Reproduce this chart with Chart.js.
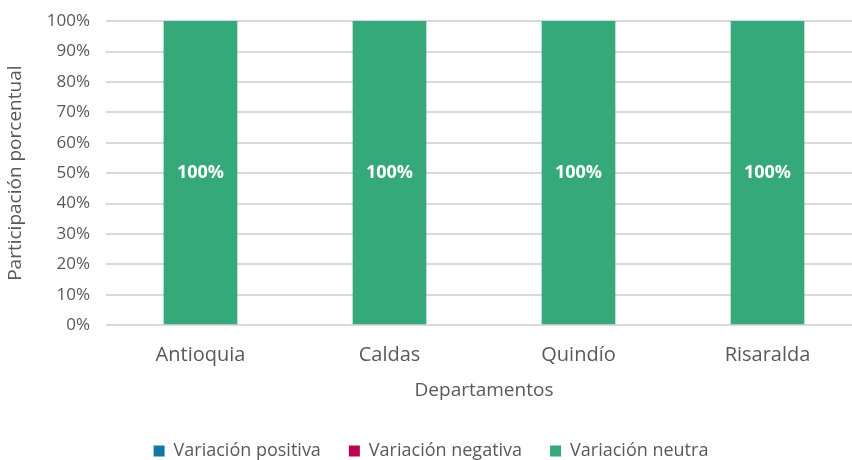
<!DOCTYPE html>
<html>
<head>
<meta charset="utf-8">
<script src="https://cdn.jsdelivr.net/npm/chart.js@4"></script>
<style>
  html, body { margin: 0; padding: 0; background: #fff; overflow: hidden; }
  #wrap { width: 862px; height: 470px; }
</style>
</head>
<body>
<div id="wrap"><canvas id="myChart"></canvas></div>
<script>
const departamentos = ["Antioquia", "Caldas", "Quindío", "Risaralda"];
const variacionPositiva = [0, 0, 0, 0];
const variacionNegativa = [0, 0, 0, 0];
const variacionNeutra = [100, 100, 100, 100];

const fuente = "'Open Sans', 'Noto Sans', sans-serif";
const gris = "#595959";

// etiquetas blancas dentro de las barras
const etiquetas = {
  id: "etiquetas",
  afterDatasetsDraw(chart) {
    const ctx = chart.ctx;
    ctx.save();
    ctx.fillStyle = "#ffffff";
    ctx.font = "bold 18px " + fuente;
    ctx.textAlign = "center";
    ctx.textBaseline = "middle";
    chart.data.datasets.forEach(function (ds, i) {
      const meta = chart.getDatasetMeta(i);
      meta.data.forEach(function (bar, j) {
        if (ds.data[j] > 0) {
          const mid = (bar.y + bar.base) / 2;
          ctx.fillText(ds.data[j] + "%", bar.x, mid);
        }
      });
    });
    ctx.restore();
  }
};

new Chart("myChart", {
  type: "bar",
  data: {
    labels: departamentos,
    datasets: [
      { label: "Variación positiva", data: variacionPositiva, backgroundColor: "#1277a6" },
      { label: "Variación negativa", data: variacionNegativa, backgroundColor: "#be0050" },
      { label: "Variación neutra", data: variacionNeutra, backgroundColor: "#36a97a" }
    ]
  },
  options: {
    responsive: true,
    maintainAspectRatio: false,
    animation: false,
    layout: { padding: { top: 0, bottom: 0, left: 0, right: 0 } },
    datasets: { bar: { barPercentage: 0.39, categoryPercentage: 1 } },
    plugins: {
      legend: {
        position: "bottom",
        labels: {
          font: { family: fuente, size: 18 },
          color: gris,
          boxWidth: 11,
          boxHeight: 11,
          padding: 28
        }
      },
      tooltip: { enabled: false }
    },
    scales: {
      x: {
        stacked: true,
        grid: { display: false },
        border: { display: false },
        ticks: { font: { family: fuente, size: 20 }, color: gris, padding: 10 },
        title: { display: true, text: "Departamentos", font: { family: fuente, size: 19 }, color: gris, padding: { top: 2, bottom: 12 } }
      },
      y: {
        stacked: true,
        min: 0,
        max: 100,
        ticks: {
          stepSize: 10,
          font: { family: fuente, size: 17, lineHeight: 0.6 },
          color: gris,
          padding: 16,
          callback: function (v) { return v + "%"; }
        },
        grid: { color: "#d9d9d9", lineWidth: 2, tickLength: 0 },
        border: { display: false },
        title: { display: true, text: "Participación porcentual", font: { family: fuente, size: 19 }, color: gris, padding: { bottom: 2 } },
        afterFit: function (s) { s.width = 106; }
      }
    }
  },
  plugins: [etiquetas]
});
</script>
</body>
</html>
